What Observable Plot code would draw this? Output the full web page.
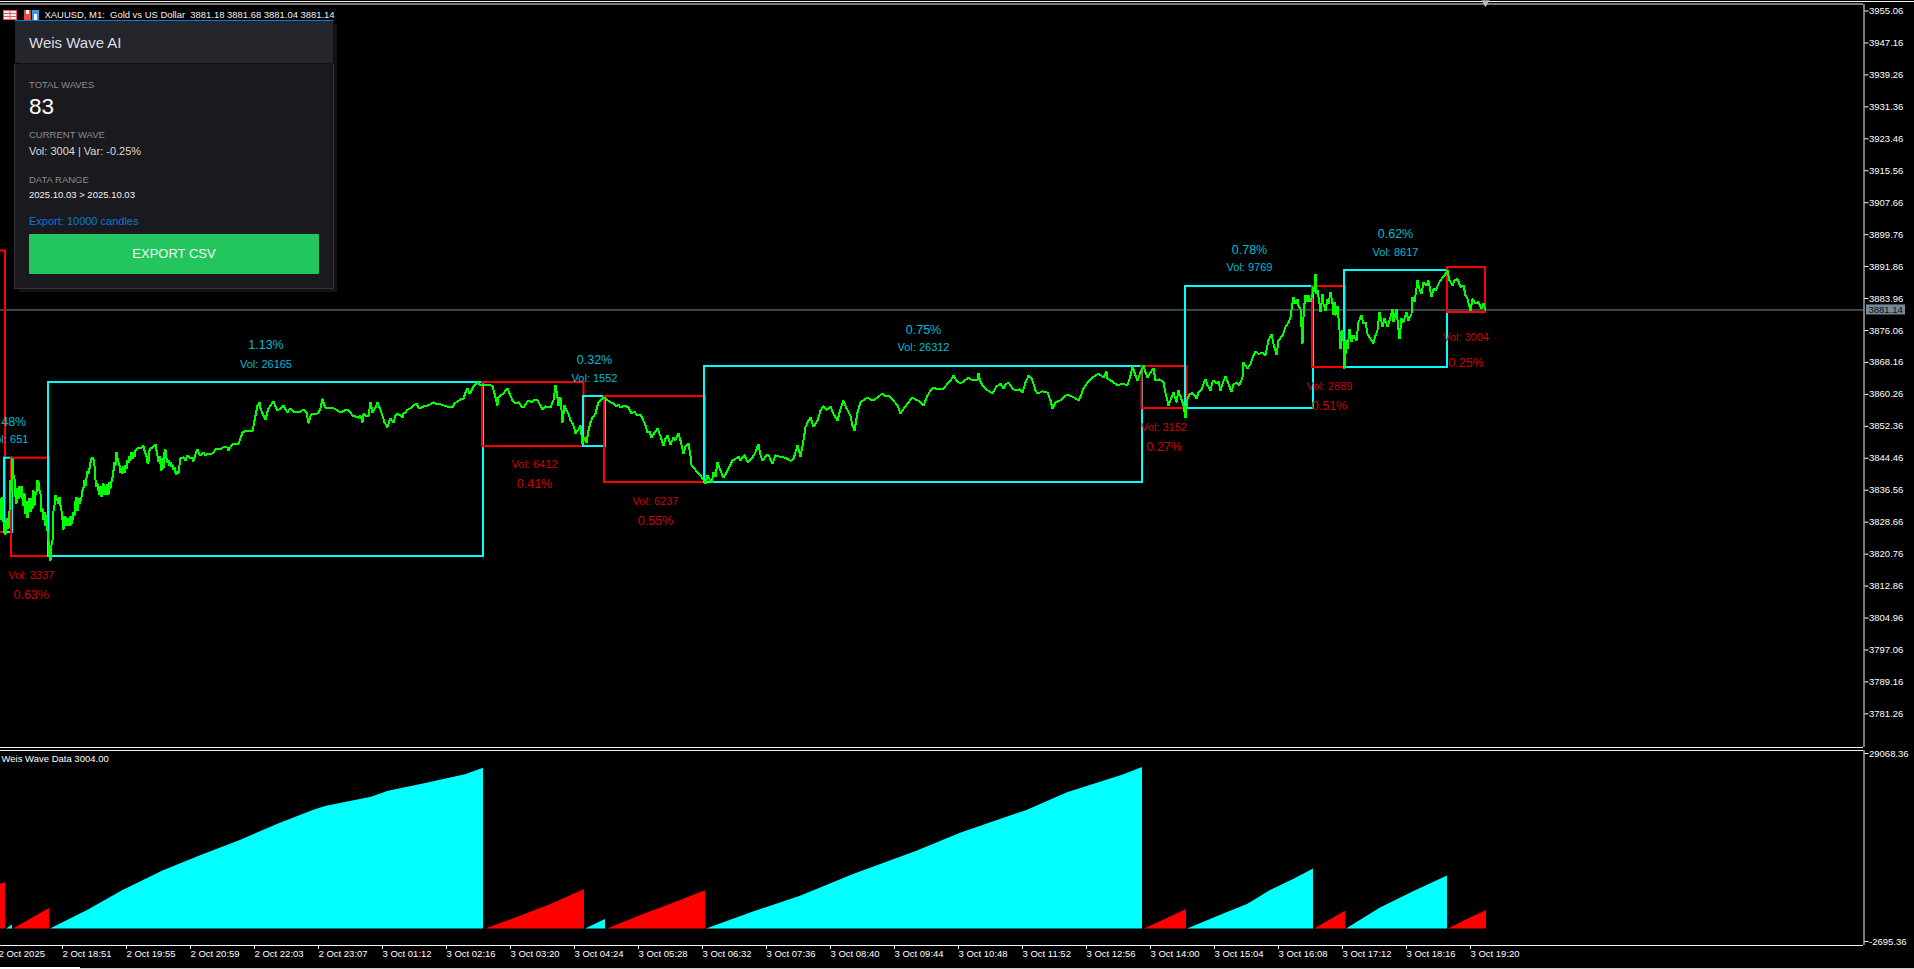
<!DOCTYPE html>
<html>
<head>
<meta charset="utf-8">
<script src="https://cdn.jsdelivr.net/npm/d3@7"></script>
<script src="https://cdn.jsdelivr.net/npm/@observablehq/plot@0.6"></script>
<style>
html,body{margin:0;padding:0;background:#000;width:1914px;height:969px;overflow:hidden;font-family:"Liberation Sans",Arial,sans-serif}
#stage{position:relative;width:1914px;height:969px;overflow:hidden}
#stage svg.pl{position:absolute;left:0;display:block}
.abs{position:absolute;white-space:pre}
#p-shadow{left:19px;top:24px;width:318px;height:268px;background:#131313}
#p-head{left:15px;top:21px;width:318px;height:42px;background:#25252c}
#p-blue{left:15px;top:20px;width:318px;height:1px;background:#0a78dc}
#p-body{left:14px;top:64px;width:318px;height:224px;background:#1a1a1e;border:1px solid #34343a;box-sizing:content-box;border-top:0}
.lab{color:#8a8a8e;font-size:9.5px;left:29px;line-height:12px}
#btn{left:29px;top:234px;width:290px;height:40px;background:#22c55e;border-radius:1px;color:#effff4;font-size:13px;line-height:40px;text-align:center}
</style>
</head>
<body>
<div id="stage">
  <div class="abs" style="left:0;top:1px;width:1914px;height:1px;background:#f4f4f4"></div>
  <div class="abs" id="p-shadow"></div>
  <div class="abs" id="p-body"></div>
  <div class="abs" id="p-head"></div>
  <div class="abs" id="p-blue"></div>
  <svg class="abs" style="left:3px;top:9px" width="36" height="12">
    <rect x="0.5" y="1.5" width="13" height="9" fill="#e8f0ff" stroke="#e85a4a"/>
    <path d="M1 4.5H13M1 7.5H13M7 2V10" stroke="#e85a4a" fill="none"/>
    <rect x="21" y="1" width="7" height="10" fill="#e84a3a"/><rect x="23" y="1" width="3" height="4" fill="#fff"/>
    <rect x="29" y="1" width="7" height="10" fill="#2d9be8"/><rect x="31" y="5" width="3" height="6" fill="#fff"/>
  </svg>
  <div class="abs" id="legend" style="left:44.5px;top:8px;color:#f2f2f2;font-size:9.45px;line-height:13px">XAUUSD, M1:  Gold vs US Dollar  3881.18 3881.68 3881.04 3881.14</div>
  <div class="abs" style="left:29px;top:34px;color:#dcdce2;font-size:15px;line-height:18px">Weis Wave AI</div>
  <div class="abs lab" style="top:79px">TOTAL WAVES</div>
  <div class="abs" style="left:29px;top:93px;color:#fff;font-size:22.5px;line-height:28px">83</div>
  <div class="abs lab" style="top:129px">CURRENT WAVE</div>
  <div class="abs" style="left:29px;top:145px;color:#d8d8dc;font-size:11px;line-height:13px">Vol: 3004 | Var: -0.25%</div>
  <div class="abs lab" style="top:174px">DATA RANGE</div>
  <div class="abs" style="left:29px;top:189px;color:#f0f0f0;font-size:9.5px;line-height:12px">2025.10.03 &gt; 2025.10.03</div>
  <div class="abs" style="left:29px;top:215px;color:#0a78dc;font-size:11px;line-height:13px">Export: 10000 candles</div>
  <div class="abs" id="btn">EXPORT CSV</div>
  <div class="abs" style="left:0;top:967px;width:80px;height:2px;background:#fff"></div>
  <div class="abs" style="left:80px;top:968px;width:1834px;height:1px;background:#cfcfcf"></div>
</div>
<script>
// ---------- price axis ----------
const priceTicks = [3955.06,3947.16,3939.26,3931.36,3923.46,3915.56,3907.66,3899.76,3891.86,3883.96,3876.06,3868.16,3860.26,3852.36,3844.46,3836.56,3828.66,3820.76,3812.86,3804.96,3797.06,3789.16,3781.26];
const lastPrice = 3881.14;
const lastBar = 1485;

// ---------- time axis (bar index, label) ----------
const timeBars = [-2,62,126,190,254,318,382,446,510,574,638,702,766,830,894,958,1022,1086,1150,1214,1278,1342,1406,1470];
const timeLabels = ["2 Oct 2025","2 Oct 18:51","2 Oct 19:55","2 Oct 20:59","2 Oct 22:03","2 Oct 23:07","3 Oct 01:12","3 Oct 02:16","3 Oct 03:20","3 Oct 04:24","3 Oct 05:28","3 Oct 06:32","3 Oct 07:36","3 Oct 08:40","3 Oct 09:44","3 Oct 10:48","3 Oct 11:52","3 Oct 12:56","3 Oct 14:00","3 Oct 15:04","3 Oct 16:08","3 Oct 17:12","3 Oct 18:16","3 Oct 19:20"];

// ---------- waves ----------
const waveUp     = [0,1,0,1,0,1,0,1,0,1,0,1,0];
const waveStart  = [-20,4,11,48,482,583,604,704,1141.5,1185,1312,1344,1447];
const waveEnd    = [5,12,49,483,583.5,605,705,1142,1186,1313,1345,1447,1485];
const waveHigh   = [3895.72,3844.48,3844.48,3863.20,3863.20,3859.74,3859.74,3867.16,3867.16,3886.94,3886.94,3890.89,3891.64];
const waveLow    = [3826.11,3826.11,3820.17,3820.17,3847.37,3847.37,3838.47,3838.47,3856.77,3856.77,3866.91,3866.91,3880.51];
const waveVol    = [null,651,3337,26165,6412,1552,6237,26312,3152,9769,2889,8617,3004];
const wavePct    = [null,"0.48%","0.63%","1.13%","0.41%","0.32%","0.55%","0.75%","0.27%","0.78%","0.51%","0.62%","0.25%"];
const waveMidBar = [null,8,30.7,265.5,534,594,655,923,1163.5,1249,1329,1395,1465.5];
const waveVolAt  = [null,3849.10,3815.47,3867.65,3842.92,3864.19,3833.77,3871.85,3852.07,3891.64,3862.21,3895.35,3874.33];
const wavePctAt  = [null,3853.38,3810.53,3872.35,3837.98,3868.64,3828.83,3876.30,3847.37,3895.84,3857.51,3899.80,3867.90];

// ---------- price path: bar, price pairs ----------
const pathA = [0,3834.5,1,3829.1,2,3834.8,3,3828.6,4,3826.6,5,3825.6,6,3829.1,7,3829.6,8,3827.1,9,3831.5,10,3839.0,11,3836.5,12,3844.4,13,3840.2,14,3839.5,15,3834.8,16,3833.3,17,3837.2,18,3834.3,19,3837.5,20,3834.8,21,3837.7,22,3834.3,23,3832.8,24,3835.8,25,3830.8,26,3834.0,27,3829.8,28,3831.5,29,3834.5,30,3831.1,31,3834.5,32,3832.0,33,3836.5,34,3832.8,35,3835.3,36,3836.0,37,3839.0,38,3838.7,39,3836.5,40,3835.8,41,3831.1,42,3832.0,43,3829.1,44,3831.1,45,3827.8,46,3830.3,47,3826.6,48,3824.1,49,3820.2,50,3819.2,51,3822.9,52,3824.1,53,3831.5,54,3832.8,55,3835.3,56,3834.0,57,3834.5,58,3833.3,59,3834.8,60,3832.8,61,3831.5,62,3829.1,63,3826.8,64,3830.1,65,3827.8,66,3829.8,67,3827.8,68,3829.6,69,3827.8,70,3830.1,71,3828.1,72,3829.3,73,3831.1,74,3830.3,75,3834.0,76,3834.8,77,3831.5,78,3834.5,79,3833.3,80,3834.0,81,3834.8,82,3836.5,83,3837.2,84,3839.0,85,3837.7,86,3839.5,87,3841.2,88,3840.7,89,3841.9,90,3843.4,91,3844.4,92,3844.7,93,3844.2,94,3842.7,95,3839.0,96,3837.5,97,3838.2,98,3836.5,99,3835.5,100,3837.5,101,3834.8,102,3836.5,103,3838.2,104,3835.5,105,3837.7,106,3835.5,107,3838.0,108,3835.5,109,3838.5,110,3837.0,111,3838.7,112,3839.7,113,3841.4,114,3843.4,115,3842.7,116,3845.9,117,3844.4,119,3842.7,120,3840.9,121,3841.9,122,3840.7,123,3842.4,124,3840.9,125,3842.7,126,3841.9,127,3843.9,128,3843.4,129,3845.1,130,3843.9,131,3845.9,132,3844.4,133,3845.9,134,3844.9,135,3846.4,137,3846.9,139,3847.1,141,3847.1,143,3847.6,144,3846.4,146,3844.9,147,3843.4,148,3843.4,149,3846.4,150,3846.9,152,3847.1,155,3847.9,156,3846.4,157,3845.1,158,3843.7,159,3844.9,160,3843.2,161,3841.4,162,3844.4,163,3841.9,164,3845.9,165,3846.6,166,3844.4,167,3843.4,168,3843.9,169,3842.7,170,3843.4,171,3842.4,172,3842.9,173,3841.7,174,3842.2,175,3840.9,176,3840.5,177,3841.2,178,3840.7,179,3842.7];
const pathB = [180,3844.4,183,3844.7,185,3843.9,187,3845.1,190,3844.4,192,3844.7,193,3843.7,195,3845.6,197,3846.6,199,3845.4,200,3845.1,203,3845.9,205,3845.1,207,3845.6,210,3845.4,213,3845.9,215,3846.6,217,3846.9,220,3846.6,224,3847.4,227,3847.1,228,3846.4,231,3847.6,233,3848.1,238,3848.1,240,3849.4,242,3850.8,244,3851.1,252,3851.1,254,3853.8,257,3857.5,259,3858.3,260,3856.8,262,3855.5,264,3854.5,265,3854.0,267,3856.0,268,3856.8,270,3857.5,273,3858.5,275,3857.3,277,3856.3,280,3856.8,283,3857.5,285,3856.5,287,3855.8,290,3856.8,293,3856.0,295,3855.8,300,3856.0,303,3856.5,306,3855.8,308,3853.1,310,3855.0,312,3855.5,315,3855.3,318,3855.8,320,3856.8,322,3859.2,324,3857.5,325,3857.0,333,3856.8,337,3856.3,340,3855.8,344,3856.3,347,3856.5,350,3855.8,352,3855.0,355,3854.8,358,3854.5,360,3855.0,362,3853.3,363,3855.5,366,3854.8,368,3855.0,370,3858.3,372,3855.8,373,3856.3,375,3857.0,377,3858.3,379,3857.0,382,3855.0,384,3853.3,386,3852.6,387,3852.1,389,3853.8,390,3854.3,393,3853.3,395,3855.0,397,3855.5,400,3855.0,402,3854.5,403,3855.5,405,3855.8,407,3856.5,410,3856.8,413,3857.5,416,3858.0,418,3857.0,420,3856.8,423,3857.3,427,3857.5,430,3857.8,433,3858.3,436,3857.8,440,3857.8,446,3857.3,452,3857.0,454,3858.0,457,3858.5,460,3859.0,463,3859.2,465,3860.7,467,3861.7,469,3860.5,470,3860.7,473,3862.2,475,3862.7,477,3863.2,480,3862.5];
const pathC = [482,3862.7,486,3862.7,490,3862.5,492,3862.2,494,3860.5,497,3857.5,498,3859.5,500,3860.0,503,3860.5,505,3861.2,507,3861.7,509,3860.5,512,3858.8,515,3858.0,518,3858.3,521,3857.3,523,3857.0,525,3857.8,528,3858.8,531,3858.3,534,3859.0,537,3858.8,540,3857.5,542,3856.5,545,3857.3,550,3857.0,553,3858.8,555,3862.5,557,3859.5,558,3857.5,560,3859.5,561,3856.3,562,3853.3,564,3857.5,566,3856.3,568,3855.5,570,3853.8,572,3853.1,574,3851.8,575,3850.6,577,3851.3,580,3852.5,581,3850.3,582,3848.1,584,3849.6,586,3848.3,588,3851.3,590,3853.3,592,3854.5,595,3855.5,597,3857.5,598,3858.3,600,3858.8,603,3859.5,606,3859.0,610,3858.3,613,3858.0,616,3857.3,618,3857.8,620,3857.0,624,3857.5,628,3857.0,631,3855.5,634,3856.0,637,3855.0,640,3855.3,642,3854.3,645,3852.6,647,3850.8,649,3851.1,651,3849.6,654,3850.8,657,3851.8,660,3849.9,663,3847.6,665,3849.4,667,3850.1,670,3847.9,673,3849.6,675,3848.9,678,3850.6,680,3848.9,683,3845.6,685,3847.4,688,3848.1,690,3845.1,691,3842.7,694,3841.9,697,3840.9,700,3840.2,702,3839.5];
const pathD = [705,3838.2,707,3840.2,709,3839.4,711,3838.3,713,3841.0,715,3839.8,717,3843.5,720,3841.4,723,3839.6,727,3841.4,732,3843.9,735,3844.3,738,3844.9,740,3843.9,744,3845.3,747,3843.5,752,3844.7,755,3846.0,758,3848.0,760,3845.2,762,3843.9,766,3845.2,768,3845.3,772,3843.1,775,3845.2,780,3844.8,785,3844.6,790,3843.8,793,3844.3,797,3847.6,800,3844.8,803,3848.9,805,3852.2,808,3853.8,810,3854.6,813,3852.2,817,3853.8,820,3856.3,823,3857.4,826,3856.4,830,3857.3,833,3855.4,837,3853.8,840,3856.7,843,3858.7,846,3856.8,850,3855.0,852,3852.6,854,3851.3,857,3855.8,860,3858.3,863,3858.8,867,3859.5,870,3859.0,873,3858.8,878,3859.7,882,3860.5,885,3859.7,888,3860.0,892,3859.0,897,3857.5,900,3855.5,904,3857.0,908,3858.3,912,3859.5,915,3859.0,917,3858.8,920,3858.3,923,3857.5,927,3860.0,930,3861.2,933,3861.9,937,3861.5,943,3861.7,947,3862.9,950,3863.7,953,3864.9,956,3863.7];
const pathE = [960,3862.9,964,3863.7,968,3864.4,972,3863.7,977,3863.7,978,3865.4,980,3863.4,982,3862.5,986,3861.5,989,3861.0,992,3860.5,996,3862.2,1000,3862.9,1003,3861.7,1005,3862.7,1008,3863.2,1012,3861.7,1015,3861.2,1019,3861.5,1022,3860.7,1025,3863.2,1028,3864.9,1031,3864.2,1033,3862.9,1035,3861.2,1037,3860.5,1042,3861.0,1047,3860.7,1050,3858.8,1052,3856.8,1055,3858.3,1060,3858.8,1064,3859.7,1067,3860.2,1072,3859.7,1078,3858.8,1080,3859.7,1083,3861.7,1087,3863.2,1092,3864.4,1095,3864.9,1098,3865.4,1103,3864.4,1106,3865.9,1107,3864.2,1112,3863.4,1117,3862.5,1122,3862.9,1127,3862.5,1130,3864.9,1132,3867.2,1135,3864.9,1137,3863.7,1140,3865.7,1143,3867.4,1145,3865.7,1147,3864.4,1150,3865.7,1153,3866.7,1155,3863.7,1159,3864.0,1163,3863.2,1165,3860.7,1168,3857.5,1171,3859.5,1173,3860.7,1176,3858.3,1178,3861.2,1180,3859.7,1183,3857.5,1185,3854.5,1187,3859.2,1189,3860.2,1192,3860.6,1194,3860.0,1196,3859.2,1198,3860.8,1201,3861.4,1203,3862.9,1205,3864.1,1207,3862.5,1210,3861.2,1212,3863.3,1213,3863.7,1216,3862.9,1218,3863.5,1220,3861.1,1222,3862.9,1225,3864.7,1228,3862.9,1231,3860.8,1233,3862.9,1237,3863.0,1239,3862.5,1242,3864.5,1243,3868.2,1246,3867.0,1247,3866.6,1250,3867.8,1253,3869.9,1255,3870.9,1258,3870.3,1262,3870.5,1265,3869.9,1268,3873.6,1271,3875.2,1273,3872.8,1276,3870.0,1278,3873.6,1282,3874.8,1285,3876.9,1288,3878.0];
const pathF = [1290,3879.4,1292,3882.7,1293,3884.3,1295,3882.7,1297,3883.9,1298,3882.2,1300,3881.4,1301,3876.9,1302,3872.8,1303,3879.4,1304,3882.7,1305,3884.7,1307,3883.1,1308,3884.7,1310,3883.1,1312,3885.1,1313,3886.8,1314,3885.5,1315,3890.1,1316,3885.1,1317,3886.0,1319,3882.7,1320,3880.6,1322,3885.1,1323,3882.7,1325,3881.0,1327,3883.9,1328,3882.7,1330,3885.5,1332,3882.7,1333,3879.8,1334,3883.1,1336,3879.8,1337,3882.2,1339,3876.1,1340,3871.5,1342,3876.1,1343,3873.6,1344,3866.6,1346,3873.6,1347,3871.5,1349,3876.5,1351,3873.2,1353,3874.8,1356,3873.6,1358,3878.1,1361,3879.8,1363,3877.7,1365,3878.1,1367,3875.2,1370,3874.0,1373,3872.9,1375,3874.8,1377,3876.1,1379,3880.6,1382,3876.9,1384,3879.0,1387,3876.9,1389,3878.5,1392,3881.4,1393,3878.1,1396,3881.4,1398,3876.1,1399,3874.0,1401,3879.0,1403,3878.1,1406,3880.6,1408,3878.5,1411,3880.2,1412,3884.3,1414,3883.1,1417,3888.4,1419,3886.4,1421,3885.1,1423,3888.0,1426,3887.2,1428,3888.4,1431,3884.3,1433,3886.4,1435,3885.9,1438,3887.6,1441,3888.8,1444,3889.7,1447,3890.9,1449,3888.4,1452,3887.2,1454,3888.4,1457,3888.8,1460,3886.8,1463,3887.2,1465,3884.7,1467,3883.9,1470,3881.0,1472,3883.9,1475,3882.7,1478,3883.1,1481,3881.4,1483,3882.7,1485,3881.14];

// ---------- indicator knots: wave index, bar, cumulative volume ----------
const histWave = [0,0, 1,1, 2,2, 3,3,3,3,3,3,3,3,3,3,3,3,3,3, 4,4,4,4, 5,5, 6,6,6,6,6, 7,7,7,7,7,7,7,7,7,7, 8,8,8, 9,9,9,9,9,9, 10,10, 11,11,11,11, 12,12,12];
const histBar  = [0,5, 6,12, 13,49, 50,88,122,163,200,241,278,314,326,371,388,424,465,483, 485,510,551,584, 585,605, 607,643,667,687,705, 706,753,800,853,917,960,1027,1067,1122,1142, 1144,1163,1186, 1187,1227,1247,1270,1293,1313, 1314,1345, 1346,1380,1413,1447, 1448,1467,1486];
const histVol  = [7300,7516, 0,651, 0,3337, 0,3105,6209,9477,11928,14488,17102,19390,19989,21460,22440,23639,25110,26165, 0,1470,4030,6412, 0,1552, 0,2343,3813,5065,6237, 0,2778,5338,8875,12691,15578,19335,22168,25054,26312, 0,1416,3152, 0,2669,3976,6263,8060,9769, 0,2889, 0,3431,6046,8617, 0,1526,3004];
const indTop = 29068.36, indBottom = -2695.36;
const indTitle = "Weis Wave Data 3004.00";

// ---------- colours ----------
const CYAN="#00ffff", RED="#ff0000", GREEN="#00ff00", CYAN_TXT="#00bcd4", RED_TXT="#d00000", SLATE="#778899";

// ---------- derived tables ----------
const waves = waveUp.map((u,i)=>({up:u,x1:waveStart[i],x2:waveEnd[i],hi:waveHigh[i],lo:waveLow[i],
  vol:waveVol[i]==null?null:"Vol: "+waveVol[i],pct:wavePct[i],mid:waveMidBar[i],volAt:waveVolAt[i],pctAt:wavePctAt[i],
  col:u?CYAN:RED,txt:u?CYAN_TXT:RED_TXT}));
const labelled = waves.filter(w=>w.vol);
const toPts = a => d3.range(0,a.length,2).map(i=>({bar:a[i],price:a[i+1]}));
const path = [pathA,pathB,pathC,pathD,pathE,pathF].flatMap(toPts);
const hist = histBar.map((b,i)=>({w:histWave[i],bar:b,v:histVol[i],col:waveUp[histWave[i]]?CYAN:RED}));

const font = '"Liberation Sans",Arial,sans-serif';
const axisFont = {fontSize:9.5};
const priceY = {domain:[3772.94,3956.67],range:[747,4]};

const main = Plot.plot({
  width:1914,height:748,margin:0,marginRight:51,
  style:{background:"transparent",color:"#fff",fontFamily:font,overflow:"hidden"},
  x:{domain:[0,1863],range:[0,1863],axis:null},
  y:{...priceY,axis:null},
  marks:[
    Plot.axisY(priceTicks,{anchor:"right",x:1863.5,tickSize:4,tickPadding:1,tickFormat:d=>d.toFixed(2),stroke:"#fff",fill:"#fff",...axisFont,label:null}),
    Plot.ruleY([lastPrice],{x1:0,x2:1863,stroke:SLATE,strokeWidth:1}),
    Plot.rect(waves,{x1:"x1",x2:"x2",y1:"lo",y2:"hi",stroke:"col",strokeWidth:2,fill:"none"}),
    Plot.line(path,{x:"bar",y:"price",stroke:GREEN,strokeWidth:2,strokeLinejoin:"miter",shapeRendering:"crispEdges"}),
    Plot.text(labelled,{x:"mid",y:"volAt",text:"vol",fill:"txt",fontSize:11}),
    Plot.text(labelled,{x:"mid",y:"pctAt",text:"pct",fill:"txt",fontSize:12.5}),
    Plot.ruleY([priceY.domain[1]],{dy:-0.5,x1:0,x2:1863,stroke:"#f4f4f4"}),
    Plot.ruleY([priceY.domain[0]],{x1:0,x2:1863,stroke:"#f4f4f4"}),
    Plot.ruleX([1863.5],{y1:priceY.domain[0],y2:priceY.domain[1],stroke:"#f4f4f4"}),
    Plot.dot([lastBar],{x:d=>d,frameAnchor:"top",dy:2,symbol:"triangle",r:3,fill:"#bbb",rotate:180}),
    Plot.rect([lastPrice],{x1:1866,x2:1905,y1:d=>d-1.24,y2:d=>d+1.24,fill:SLATE}),
    Plot.text([lastPrice],{x:1868,y:d=>d,text:d=>d.toFixed(2),fill:"#111",textAnchor:"start",...axisFont})
  ]
});
main.classList.add("pl"); main.style.top="0px";

const indY = {domain:[indBottom,indTop],range:[197,2]};
const ind = Plot.plot({
  width:1914,height:221,margin:0,marginRight:51,marginBottom:24,marginTop:2,
  style:{background:"transparent",color:"#fff",fontFamily:font,overflow:"hidden"},
  x:{domain:[0,1863],range:[0,1863],axis:null},
  y:{...indY,axis:null},
  marks:[
    Plot.areaY(hist,{x:"bar",y1:0,y2:"v",z:"w",fill:"col"}),
    Plot.ruleY([indTop],{x1:0,x2:1863,stroke:"#f4f4f4"}),
    Plot.ruleY([indBottom],{x1:0,x2:1863,stroke:"#f4f4f4"}),
    Plot.ruleX([1863.5],{y1:indBottom,y2:indTop,stroke:"#f4f4f4"}),
    Plot.axisY([indTop],{anchor:"right",x:1863.5,tickSize:4,tickPadding:1,dy:3,tickFormat:d=>d.toFixed(2),fill:"#fff",...axisFont,label:null}),
    Plot.axisY([indBottom],{anchor:"right",x:1863.5,tickSize:4,tickPadding:1,dy:-4,tickFormat:d=>d.toFixed(2),fill:"#fff",...axisFont,label:null}),
    Plot.axisX(timeBars,{anchor:"bottom",y:indBottom,tickSize:4,tickPadding:1,textAnchor:"start",tickFormat:d=>timeLabels[timeBars.indexOf(d)],fill:"#fff",...axisFont,label:null}),
    Plot.text([indTitle],{frameAnchor:"top-left",dx:1,dy:5,fill:"#fff",fontSize:9.5,textAnchor:"start"})
  ]
});
ind.classList.add("pl"); ind.style.top="748px";

const stage=document.getElementById("stage");
const first=stage.querySelector("#p-shadow");
stage.insertBefore(main,first);
stage.insertBefore(ind,first);
</script>
</body>
</html>
